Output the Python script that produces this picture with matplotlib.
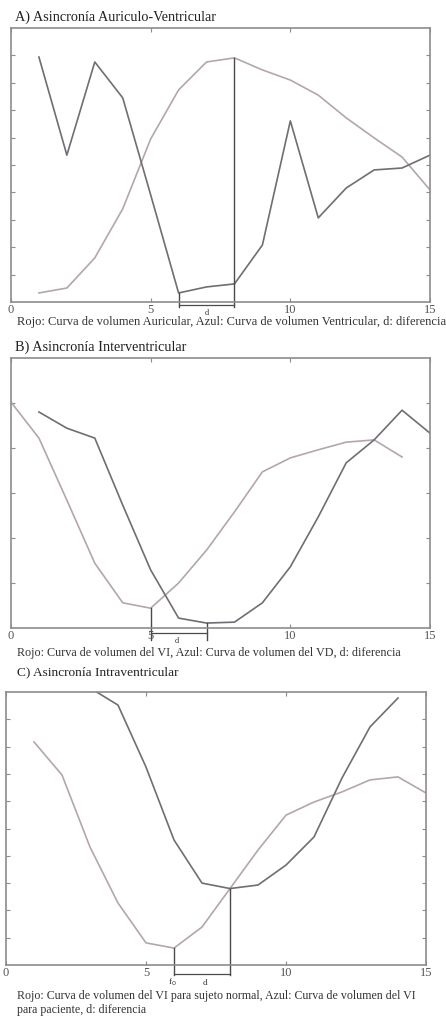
import numpy as np
import matplotlib.pyplot as plt

plt.rcParams['font.family'] = ['Liberation Serif', 'DejaVu Serif']

# A) auricular / ventricular volume curves
xa = np.arange(1, 16)
auricular_a = [0.33, 0.51, 1.61, 3.4, 5.95, 7.74, 8.76, 8.91, 8.47, 8.10, 7.55, 6.72, 5.99, 5.29, 4.09]
ventricular_a = [8.94, 5.36, 8.76, 7.45, 3.91, 0.33, 0.55, 0.66, 2.08, 6.61, 3.07, 4.16, 4.82, 4.89, 5.36]

# B) VI / VD volume curves
xb_vi = np.arange(0, 15)
vi_b = [5.02, 4.22, 2.84, 1.44, 0.56, 0.44, 1.0, 1.73, 2.58, 3.47, 3.78, 3.96, 4.13, 4.18, 3.8]
xb_vd = np.arange(1, 16)
vd_b = [4.8, 4.44, 4.22, 2.73, 1.29, 0.22, 0.11, 0.13, 0.56, 1.36, 2.47, 3.67, 4.18, 4.84, 4.33]

# C) VI normal subject / VI patient
xc_norm = np.arange(1, 16)
vi_normal_c = [8.17, 6.96, 4.32, 2.27, 0.81, 0.62, 1.39, 2.8, 4.21, 5.49, 5.97, 6.34, 6.78, 6.89, 6.30]
xc_pac = np.arange(3, 15)
vi_pac_c = [10.15, 9.52, 7.25, 4.58, 3.0, 2.8, 2.93, 3.66, 4.69, 6.85, 8.72, 9.78]

xticks = [0, 5, 10, 15]

RED = '#b3a6ac'
BLUE = '#6e6e74'
MARK = '#4a4a4a'
FRAME = '#8c8c8c'
TXT = '#333333'

fig = plt.figure(figsize=(4.46, 10.19), dpi=100)


def setup(ax, ymax):
    ax.set_xlim(0, 15)
    ax.set_ylim(0, ymax)
    ax.set_xticks(xticks)
    ax.set_xticklabels([str(t) for t in xticks], fontsize=9, color='#555555')
    ax.set_yticks(range(1, ymax))
    ax.set_yticklabels([])
    ax.tick_params(direction='in', length=3, width=0.8, color=FRAME,
                   top=True, right=True, pad=1.5)
    for s in ax.spines.values():
        s.set_color(FRAME)
        s.set_linewidth(1.2)


def bracket(ax, x0, x1, y0, y1, depth, level):
    # vertical markers from the curves down below the axis, plus the d span
    ax.plot([x0, x0], [y0, -depth], color=MARK, lw=1.0, clip_on=False)
    ax.plot([x1, x1], [y1, -depth], color=MARK, lw=1.0, clip_on=False)
    ax.plot([x0, x1], [-level, -level], color=MARK, lw=0.9, clip_on=False)


# Panel A
axA = fig.add_axes([11 / 446, 1 - 302 / 1019, 419 / 446, 274 / 1019])
setup(axA, 10)
axA.plot(xa, auricular_a, color=RED, lw=1.2)
axA.plot(xa, ventricular_a, color=BLUE, lw=1.2)
bracket(axA, 6, 8, ventricular_a[5], auricular_a[7], 0.19, 0.11)
axA.text(7.0, -0.25, 'd', fontsize=6, ha='center', va='top', color=TXT)
fig.text(15 / 446, 1 - 17 / 1019, 'A) Asincronía Auriculo-Ventricular',
         fontsize=10.3, va='center', ha='left', color='#222222')
fig.text(17 / 446, 1 - 322 / 1019,
         'Rojo: Curva de volumen Auricular, Azul: Curva de volumen Ventricular, d: diferencia',
         fontsize=9, va='center', ha='left', color=TXT)

# Panel B
axB = fig.add_axes([11 / 446, 1 - 628 / 1019, 419 / 446, 270 / 1019])
setup(axB, 6)
axB.plot(xb_vi, vi_b, color=RED, lw=1.2)
axB.plot(xb_vd, vd_b, color=BLUE, lw=1.2)
bracket(axB, 5, 7, vi_b[5], vd_b[6], 0.27, 0.11)
axB.text(5.95, -0.2, 'd', fontsize=6, ha='center', va='top', color=TXT)
fig.text(15 / 446, 1 - 347 / 1019, 'B) Asincronía Interventricular',
         fontsize=10.3, va='center', ha='left', color='#222222')
fig.text(17 / 446, 1 - 653 / 1019,
         'Rojo: Curva de volumen del VI, Azul: Curva de volumen del VD, d: diferencia',
         fontsize=8.7, va='center', ha='left', color=TXT)

# Panel C
axC = fig.add_axes([6 / 446, 1 - 965 / 1019, 420 / 446, 273 / 1019])
setup(axC, 10)
axC.plot(xc_norm, vi_normal_c, color=RED, lw=1.2)
axC.plot(xc_pac, vi_pac_c, color=BLUE, lw=1.2)
bracket(axC, 6, 8, vi_normal_c[5], vi_pac_c[5], 0.37, 0.33)
axC.text(5.95, -0.42, 'f$_0$', fontsize=6.5, ha='center', va='top', color=TXT)
axC.text(7.1, -0.5, 'd', fontsize=6.5, ha='center', va='top', color=TXT)
fig.text(17 / 446, 1 - 996 / 1019,
         'Rojo: Curva de volumen del VI para sujeto normal, Azul: Curva de volumen del VI',
         fontsize=8.6, va='center', ha='left', color=TXT)
fig.text(17 / 446, 1 - 1010 / 1019, 'para paciente, d: diferencia',
         fontsize=8.6, va='center', ha='left', color=TXT)
fig.text(17 / 446, 1 - 672 / 1019, 'C) Asincronía Intraventricular',
         fontsize=9.6, va='center', ha='left', color='#222222')

fig.savefig('out.png', dpi=100)
